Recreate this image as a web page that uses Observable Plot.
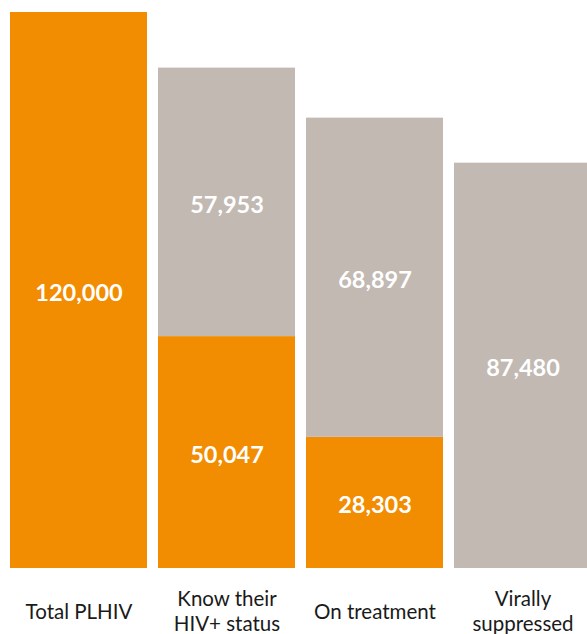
<!DOCTYPE html>
<html>
<head>
<meta charset="utf-8">
<script src="https://cdn.jsdelivr.net/npm/d3@7"></script>
<script src="https://cdn.jsdelivr.net/npm/@observablehq/plot@0.6"></script>
<style>
  html, body { margin: 0; padding: 0; background: #fff; }
  #chart svg { display: block; }
</style>
</head>
<body>
<div id="chart"></div>
<script>
// Categories (stages of the cascade) and their axis labels
const stages = ["Total PLHIV", "Know their HIV+ status", "On treatment", "Virally suppressed"];
const stageLabels = ["Total PLHIV", "Know their\nHIV+ status", "On treatment", "Virally\nsuppressed"];

// Series values (stacked: achieved at bottom, gap on top)
const achieved = [120000, 50047, 28303, 0];
const gap = [0, 57953, 68897, 87480];

const seriesNames = ["achieved", "gap"];
const seriesColors = ["#F28C00", "#C2B9B3"];

// Build the table Plot needs (achieved rows first so they stack at the bottom)
const rows = [];
stages.forEach((s, i) => rows.push({stage: s, series: "achieved", value: achieved[i]}));
stages.forEach((s, i) => rows.push({stage: s, series: "gap", value: gap[i]}));

const labelOf = new Map(stages.map((s, i) => [s, stageLabels[i]]));
const fmt = d3.format(",");

const chart = Plot.plot({
  width: 587,
  height: 634,
  marginLeft: 10,
  marginRight: -4,
  marginTop: 12,
  marginBottom: 66,
  style: {fontFamily: "Lato, sans-serif", background: "#fff", color: "#1a1a1a"},
  x: {domain: stages, paddingInner: 0.075, paddingOuter: 0, align: 0.5, axis: null},
  y: {domain: [0, 120000], axis: null},
  color: {domain: seriesNames, range: seriesColors},
  marks: [
    Plot.barY(rows, Plot.stackY({x: "stage", y: "value", z: "series", fill: "series", order: seriesNames})),
    Plot.text(rows.filter(d => d.value > 0), Plot.stackY({
      x: "stage", y: "value", z: "series", order: seriesNames,
      text: d => fmt(d.value),
      fill: "white", fontSize: 23.5, fontWeight: "bold", dy: 3
    })),
    Plot.axisX({
      tickSize: 0,
      tickPadding: 42,
      fontSize: 20.5,
      lineHeight: 1.22,
      lineAnchor: "middle",
      tickFormat: d => labelOf.get(d),
      label: null
    })
  ]
});

document.getElementById("chart").appendChild(chart);
</script>
</body>
</html>
